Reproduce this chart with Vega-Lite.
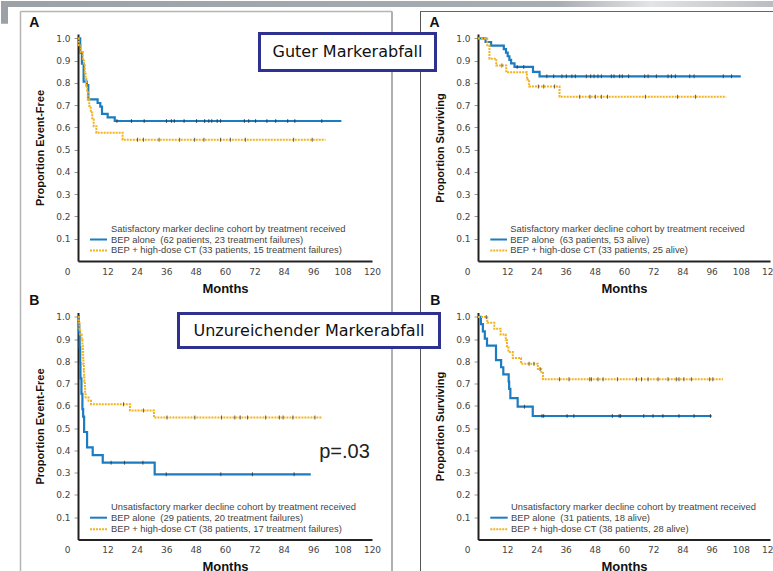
{
"$schema": "https://vega.github.io/schema/vega-lite/v6.json",
"background": "white",
"padding": 0,
"config": {
 "view": {"stroke": null},
 "axis": {"grid": false, "labelOverlap": false, "labelBound": false, "labelFlush": false, "domainColor": "#222", "domainWidth": 2, "labelFont": "DejaVu Sans", "labelFontSize": 9, "labelColor": "#444", "tickColor": "#999", "tickSize": 4, "tickWidth": 1, "titleColor": "#111", "titleFontWeight": "bold"},
 "axisX": {"ticks": false, "tickSize": 0, "labelPadding": 6, "titleFont": "Liberation Sans", "titleFontSize": 13, "titlePadding": 6},
 "axisY": {"labelPadding": 4, "titleFont": "Liberation Sans", "titleFontSize": 11, "titlePadding": 10}
},
"datasets": {
 "one": [{"n": 1}],
 "km": [
  {"panel":"TL","arm":"BEP","kind":"step","month":0,"prop":1},
  {"panel":"TL","arm":"BEP","kind":"step","month":0.9,"prop":0.936},
  {"panel":"TL","arm":"BEP","kind":"step","month":1.6,"prop":0.887},
  {"panel":"TL","arm":"BEP","kind":"step","month":2.3,"prop":0.806},
  {"panel":"TL","arm":"BEP","kind":"step","month":3.6,"prop":0.79},
  {"panel":"TL","arm":"BEP","kind":"step","month":4.2,"prop":0.726},
  {"panel":"TL","arm":"BEP","kind":"step","month":8.0,"prop":0.71},
  {"panel":"TL","arm":"BEP","kind":"step","month":9.1,"prop":0.694},
  {"panel":"TL","arm":"BEP","kind":"step","month":9.8,"prop":0.661},
  {"panel":"TL","arm":"BEP","kind":"step","month":12.1,"prop":0.645},
  {"panel":"TL","arm":"BEP","kind":"step","month":15.0,"prop":0.629},
  {"panel":"TL","arm":"BEP","kind":"step","month":107.5,"prop":0.629},
  {"panel":"TL","arm":"BEP","kind":"cens","month":15.9,"prop":0.629},
  {"panel":"TL","arm":"BEP","kind":"cens","month":21.8,"prop":0.629},
  {"panel":"TL","arm":"BEP","kind":"cens","month":27,"prop":0.629},
  {"panel":"TL","arm":"BEP","kind":"cens","month":36.1,"prop":0.629},
  {"panel":"TL","arm":"BEP","kind":"cens","month":38.1,"prop":0.629},
  {"panel":"TL","arm":"BEP","kind":"cens","month":39.3,"prop":0.629},
  {"panel":"TL","arm":"BEP","kind":"cens","month":43.3,"prop":0.629},
  {"panel":"TL","arm":"BEP","kind":"cens","month":48.4,"prop":0.629},
  {"panel":"TL","arm":"BEP","kind":"cens","month":51.7,"prop":0.629},
  {"panel":"TL","arm":"BEP","kind":"cens","month":53.4,"prop":0.629},
  {"panel":"TL","arm":"BEP","kind":"cens","month":54.6,"prop":0.629},
  {"panel":"TL","arm":"BEP","kind":"cens","month":56.8,"prop":0.629},
  {"panel":"TL","arm":"BEP","kind":"cens","month":58.2,"prop":0.629},
  {"panel":"TL","arm":"BEP","kind":"cens","month":67.9,"prop":0.629},
  {"panel":"TL","arm":"BEP","kind":"cens","month":69.7,"prop":0.629},
  {"panel":"TL","arm":"BEP","kind":"cens","month":72.5,"prop":0.629},
  {"panel":"TL","arm":"BEP","kind":"cens","month":77.1,"prop":0.629},
  {"panel":"TL","arm":"BEP","kind":"cens","month":80.7,"prop":0.629},
  {"panel":"TL","arm":"BEP","kind":"cens","month":85.6,"prop":0.629},
  {"panel":"TL","arm":"BEP","kind":"cens","month":88.5,"prop":0.629},
  {"panel":"TL","arm":"BEP","kind":"cens","month":99.5,"prop":0.629},
  {"panel":"TL","arm":"HD","kind":"step","month":0,"prop":1},
  {"panel":"TL","arm":"HD","kind":"step","month":0.3,"prop":0.97},
  {"panel":"TL","arm":"HD","kind":"step","month":1.2,"prop":0.939},
  {"panel":"TL","arm":"HD","kind":"step","month":2.0,"prop":0.909},
  {"panel":"TL","arm":"HD","kind":"step","month":2.4,"prop":0.879},
  {"panel":"TL","arm":"HD","kind":"step","month":2.8,"prop":0.848},
  {"panel":"TL","arm":"HD","kind":"step","month":3.1,"prop":0.818},
  {"panel":"TL","arm":"HD","kind":"step","month":3.4,"prop":0.788},
  {"panel":"TL","arm":"HD","kind":"step","month":3.7,"prop":0.758},
  {"panel":"TL","arm":"HD","kind":"step","month":4.0,"prop":0.727},
  {"panel":"TL","arm":"HD","kind":"step","month":4.6,"prop":0.697},
  {"panel":"TL","arm":"HD","kind":"step","month":5.2,"prop":0.667},
  {"panel":"TL","arm":"HD","kind":"step","month":5.8,"prop":0.636},
  {"panel":"TL","arm":"HD","kind":"step","month":6.4,"prop":0.606},
  {"panel":"TL","arm":"HD","kind":"step","month":7.5,"prop":0.576},
  {"panel":"TL","arm":"HD","kind":"step","month":18.2,"prop":0.545},
  {"panel":"TL","arm":"HD","kind":"step","month":101,"prop":0.545},
  {"panel":"TL","arm":"HD","kind":"cens","month":24.3,"prop":0.545},
  {"panel":"TL","arm":"HD","kind":"cens","month":26.7,"prop":0.545},
  {"panel":"TL","arm":"HD","kind":"cens","month":33.1,"prop":0.545},
  {"panel":"TL","arm":"HD","kind":"cens","month":41.5,"prop":0.545},
  {"panel":"TL","arm":"HD","kind":"cens","month":47.6,"prop":0.545},
  {"panel":"TL","arm":"HD","kind":"cens","month":51.4,"prop":0.545},
  {"panel":"TL","arm":"HD","kind":"cens","month":58.2,"prop":0.545},
  {"panel":"TL","arm":"HD","kind":"cens","month":62.2,"prop":0.545},
  {"panel":"TL","arm":"HD","kind":"cens","month":68.3,"prop":0.545},
  {"panel":"TL","arm":"HD","kind":"cens","month":88,"prop":0.545},
  {"panel":"TL","arm":"HD","kind":"cens","month":95.6,"prop":0.545},

  {"panel":"TR","arm":"BEP","kind":"step","month":0,"prop":1},
  {"panel":"TR","arm":"BEP","kind":"step","month":3.1,"prop":0.984},
  {"panel":"TR","arm":"BEP","kind":"step","month":5.4,"prop":0.968},
  {"panel":"TR","arm":"BEP","kind":"step","month":10.6,"prop":0.952},
  {"panel":"TR","arm":"BEP","kind":"step","month":11.5,"prop":0.936},
  {"panel":"TR","arm":"BEP","kind":"step","month":12.2,"prop":0.92},
  {"panel":"TR","arm":"BEP","kind":"step","month":12.9,"prop":0.904},
  {"panel":"TR","arm":"BEP","kind":"step","month":13.6,"prop":0.888},
  {"panel":"TR","arm":"BEP","kind":"step","month":15.0,"prop":0.872},
  {"panel":"TR","arm":"BEP","kind":"step","month":22.6,"prop":0.85},
  {"panel":"TR","arm":"BEP","kind":"step","month":25.3,"prop":0.83},
  {"panel":"TR","arm":"BEP","kind":"step","month":108,"prop":0.83},
  {"panel":"TR","arm":"BEP","kind":"cens","month":16.1,"prop":0.872},
  {"panel":"TR","arm":"BEP","kind":"cens","month":18.8,"prop":0.872},
  {"panel":"TR","arm":"BEP","kind":"cens","month":28.3,"prop":0.83},
  {"panel":"TR","arm":"BEP","kind":"cens","month":31.1,"prop":0.83},
  {"panel":"TR","arm":"BEP","kind":"cens","month":34.5,"prop":0.83},
  {"panel":"TR","arm":"BEP","kind":"cens","month":36.3,"prop":0.83},
  {"panel":"TR","arm":"BEP","kind":"cens","month":38.6,"prop":0.83},
  {"panel":"TR","arm":"BEP","kind":"cens","month":40,"prop":0.83},
  {"panel":"TR","arm":"BEP","kind":"cens","month":44.5,"prop":0.83},
  {"panel":"TR","arm":"BEP","kind":"cens","month":46.3,"prop":0.83},
  {"panel":"TR","arm":"BEP","kind":"cens","month":47.7,"prop":0.83},
  {"panel":"TR","arm":"BEP","kind":"cens","month":49.3,"prop":0.83},
  {"panel":"TR","arm":"BEP","kind":"cens","month":50.7,"prop":0.83},
  {"panel":"TR","arm":"BEP","kind":"cens","month":54.8,"prop":0.83},
  {"panel":"TR","arm":"BEP","kind":"cens","month":55.9,"prop":0.83},
  {"panel":"TR","arm":"BEP","kind":"cens","month":58.2,"prop":0.83},
  {"panel":"TR","arm":"BEP","kind":"cens","month":59.3,"prop":0.83},
  {"panel":"TR","arm":"BEP","kind":"cens","month":61.9,"prop":0.83},
  {"panel":"TR","arm":"BEP","kind":"cens","month":68.5,"prop":0.83},
  {"panel":"TR","arm":"BEP","kind":"cens","month":69.9,"prop":0.83},
  {"panel":"TR","arm":"BEP","kind":"cens","month":73.3,"prop":0.83},
  {"panel":"TR","arm":"BEP","kind":"cens","month":78.1,"prop":0.83},
  {"panel":"TR","arm":"BEP","kind":"cens","month":79.5,"prop":0.83},
  {"panel":"TR","arm":"BEP","kind":"cens","month":81.1,"prop":0.83},
  {"panel":"TR","arm":"BEP","kind":"cens","month":87,"prop":0.83},
  {"panel":"TR","arm":"BEP","kind":"cens","month":88.8,"prop":0.83},
  {"panel":"TR","arm":"BEP","kind":"cens","month":100.8,"prop":0.83},
  {"panel":"TR","arm":"BEP","kind":"cens","month":104.2,"prop":0.83},
  {"panel":"TR","arm":"HD","kind":"step","month":0,"prop":1},
  {"panel":"TR","arm":"HD","kind":"step","month":3.8,"prop":0.97},
  {"panel":"TR","arm":"HD","kind":"step","month":4.7,"prop":0.909},
  {"panel":"TR","arm":"HD","kind":"step","month":7.5,"prop":0.879},
  {"panel":"TR","arm":"HD","kind":"step","month":11.6,"prop":0.848},
  {"panel":"TR","arm":"HD","kind":"step","month":20.1,"prop":0.815},
  {"panel":"TR","arm":"HD","kind":"step","month":21.0,"prop":0.784},
  {"panel":"TR","arm":"HD","kind":"step","month":33.5,"prop":0.738},
  {"panel":"TR","arm":"HD","kind":"step","month":102,"prop":0.738},
  {"panel":"TR","arm":"HD","kind":"cens","month":9.8,"prop":0.879},
  {"panel":"TR","arm":"HD","kind":"cens","month":24.8,"prop":0.784},
  {"panel":"TR","arm":"HD","kind":"cens","month":27,"prop":0.784},
  {"panel":"TR","arm":"HD","kind":"cens","month":31.5,"prop":0.784},
  {"panel":"TR","arm":"HD","kind":"cens","month":41.8,"prop":0.738},
  {"panel":"TR","arm":"HD","kind":"cens","month":46,"prop":0.738},
  {"panel":"TR","arm":"HD","kind":"cens","month":48.2,"prop":0.738},
  {"panel":"TR","arm":"HD","kind":"cens","month":50.7,"prop":0.738},
  {"panel":"TR","arm":"HD","kind":"cens","month":53.2,"prop":0.738},
  {"panel":"TR","arm":"HD","kind":"cens","month":68.8,"prop":0.738},
  {"panel":"TR","arm":"HD","kind":"cens","month":82,"prop":0.738},
  {"panel":"TR","arm":"HD","kind":"cens","month":89.4,"prop":0.738},

  {"panel":"BL","arm":"BEP","kind":"step","month":0,"prop":1},
  {"panel":"BL","arm":"BEP","kind":"step","month":0.3,"prop":0.966},
  {"panel":"BL","arm":"BEP","kind":"step","month":0.5,"prop":0.931},
  {"panel":"BL","arm":"BEP","kind":"step","month":0.7,"prop":0.862},
  {"panel":"BL","arm":"BEP","kind":"step","month":0.9,"prop":0.793},
  {"panel":"BL","arm":"BEP","kind":"step","month":1.0,"prop":0.724},
  {"panel":"BL","arm":"BEP","kind":"step","month":1.4,"prop":0.655},
  {"panel":"BL","arm":"BEP","kind":"step","month":1.8,"prop":0.586},
  {"panel":"BL","arm":"BEP","kind":"step","month":2.1,"prop":0.552},
  {"panel":"BL","arm":"BEP","kind":"step","month":2.5,"prop":0.483},
  {"panel":"BL","arm":"BEP","kind":"step","month":3.7,"prop":0.414},
  {"panel":"BL","arm":"BEP","kind":"step","month":6.0,"prop":0.379},
  {"panel":"BL","arm":"BEP","kind":"step","month":10.1,"prop":0.345},
  {"panel":"BL","arm":"BEP","kind":"step","month":31.3,"prop":0.293},
  {"panel":"BL","arm":"BEP","kind":"step","month":95,"prop":0.293},
  {"panel":"BL","arm":"BEP","kind":"cens","month":13.5,"prop":0.345},
  {"panel":"BL","arm":"BEP","kind":"cens","month":19,"prop":0.345},
  {"panel":"BL","arm":"BEP","kind":"cens","month":26.5,"prop":0.345},
  {"panel":"BL","arm":"BEP","kind":"cens","month":36,"prop":0.293},
  {"panel":"BL","arm":"BEP","kind":"cens","month":58.3,"prop":0.293},
  {"panel":"BL","arm":"BEP","kind":"cens","month":71.2,"prop":0.293},
  {"panel":"BL","arm":"BEP","kind":"cens","month":88.2,"prop":0.293},
  {"panel":"BL","arm":"HD","kind":"step","month":0,"prop":1},
  {"panel":"BL","arm":"HD","kind":"step","month":0.3,"prop":0.974},
  {"panel":"BL","arm":"HD","kind":"step","month":0.6,"prop":0.947},
  {"panel":"BL","arm":"HD","kind":"step","month":0.9,"prop":0.921},
  {"panel":"BL","arm":"HD","kind":"step","month":1.5,"prop":0.895},
  {"panel":"BL","arm":"HD","kind":"step","month":1.8,"prop":0.868},
  {"panel":"BL","arm":"HD","kind":"step","month":2.0,"prop":0.842},
  {"panel":"BL","arm":"HD","kind":"step","month":2.1,"prop":0.816},
  {"panel":"BL","arm":"HD","kind":"step","month":2.2,"prop":0.789},
  {"panel":"BL","arm":"HD","kind":"step","month":2.4,"prop":0.763},
  {"panel":"BL","arm":"HD","kind":"step","month":2.5,"prop":0.737},
  {"panel":"BL","arm":"HD","kind":"step","month":2.6,"prop":0.711},
  {"panel":"BL","arm":"HD","kind":"step","month":2.8,"prop":0.684},
  {"panel":"BL","arm":"HD","kind":"step","month":2.9,"prop":0.658},
  {"panel":"BL","arm":"HD","kind":"step","month":3.1,"prop":0.638},
  {"panel":"BL","arm":"HD","kind":"step","month":4.3,"prop":0.623},
  {"panel":"BL","arm":"HD","kind":"step","month":5.3,"prop":0.608},
  {"panel":"BL","arm":"HD","kind":"step","month":21.2,"prop":0.58},
  {"panel":"BL","arm":"HD","kind":"step","month":31.0,"prop":0.548},
  {"panel":"BL","arm":"HD","kind":"step","month":99.7,"prop":0.548},
  {"panel":"BL","arm":"HD","kind":"cens","month":18.6,"prop":0.608},
  {"panel":"BL","arm":"HD","kind":"cens","month":26.7,"prop":0.58},
  {"panel":"BL","arm":"HD","kind":"cens","month":36.3,"prop":0.548},
  {"panel":"BL","arm":"HD","kind":"cens","month":47.7,"prop":0.548},
  {"panel":"BL","arm":"HD","kind":"cens","month":58.6,"prop":0.548},
  {"panel":"BL","arm":"HD","kind":"cens","month":64,"prop":0.548},
  {"panel":"BL","arm":"HD","kind":"cens","month":66.2,"prop":0.548},
  {"panel":"BL","arm":"HD","kind":"cens","month":69.2,"prop":0.548},
  {"panel":"BL","arm":"HD","kind":"cens","month":76.6,"prop":0.548},
  {"panel":"BL","arm":"HD","kind":"cens","month":82.2,"prop":0.548},
  {"panel":"BL","arm":"HD","kind":"cens","month":83.7,"prop":0.548},
  {"panel":"BL","arm":"HD","kind":"cens","month":87.7,"prop":0.548},
  {"panel":"BL","arm":"HD","kind":"cens","month":96.7,"prop":0.548},

  {"panel":"BR","arm":"BEP","kind":"step","month":0,"prop":1},
  {"panel":"BR","arm":"BEP","kind":"step","month":1.2,"prop":0.968},
  {"panel":"BR","arm":"BEP","kind":"step","month":2.0,"prop":0.935},
  {"panel":"BR","arm":"BEP","kind":"step","month":2.8,"prop":0.903},
  {"panel":"BR","arm":"BEP","kind":"step","month":3.7,"prop":0.871},
  {"panel":"BR","arm":"BEP","kind":"step","month":7.4,"prop":0.806},
  {"panel":"BR","arm":"BEP","kind":"step","month":9.5,"prop":0.774},
  {"panel":"BR","arm":"BEP","kind":"step","month":10.4,"prop":0.742},
  {"panel":"BR","arm":"BEP","kind":"step","month":12.6,"prop":0.71},
  {"panel":"BR","arm":"BEP","kind":"step","month":12.8,"prop":0.677},
  {"panel":"BR","arm":"BEP","kind":"step","month":13.3,"prop":0.635},
  {"panel":"BR","arm":"BEP","kind":"step","month":16.3,"prop":0.597},
  {"panel":"BR","arm":"BEP","kind":"step","month":22.5,"prop":0.555},
  {"panel":"BR","arm":"BEP","kind":"step","month":96,"prop":0.555},
  {"panel":"BR","arm":"BEP","kind":"cens","month":19.1,"prop":0.597},
  {"panel":"BR","arm":"BEP","kind":"cens","month":26.3,"prop":0.555},
  {"panel":"BR","arm":"BEP","kind":"cens","month":27,"prop":0.555},
  {"panel":"BR","arm":"BEP","kind":"cens","month":36.6,"prop":0.555},
  {"panel":"BR","arm":"BEP","kind":"cens","month":39.4,"prop":0.555},
  {"panel":"BR","arm":"BEP","kind":"cens","month":55.2,"prop":0.555},
  {"panel":"BR","arm":"BEP","kind":"cens","month":58,"prop":0.555},
  {"panel":"BR","arm":"BEP","kind":"cens","month":58.6,"prop":0.555},
  {"panel":"BR","arm":"BEP","kind":"cens","month":68.1,"prop":0.555},
  {"panel":"BR","arm":"BEP","kind":"cens","month":71.9,"prop":0.555},
  {"panel":"BR","arm":"BEP","kind":"cens","month":76,"prop":0.555},
  {"panel":"BR","arm":"BEP","kind":"cens","month":82.6,"prop":0.555},
  {"panel":"BR","arm":"BEP","kind":"cens","month":88.8,"prop":0.555},
  {"panel":"BR","arm":"BEP","kind":"cens","month":95.5,"prop":0.555},
  {"panel":"BR","arm":"HD","kind":"step","month":0,"prop":1},
  {"panel":"BR","arm":"HD","kind":"step","month":3.8,"prop":0.974},
  {"panel":"BR","arm":"HD","kind":"step","month":6.7,"prop":0.947},
  {"panel":"BR","arm":"HD","kind":"step","month":9.3,"prop":0.921},
  {"panel":"BR","arm":"HD","kind":"step","month":11.4,"prop":0.895},
  {"panel":"BR","arm":"HD","kind":"step","month":11.9,"prop":0.868},
  {"panel":"BR","arm":"HD","kind":"step","month":12.5,"prop":0.842},
  {"panel":"BR","arm":"HD","kind":"step","month":14.3,"prop":0.816},
  {"panel":"BR","arm":"HD","kind":"step","month":17.7,"prop":0.79},
  {"panel":"BR","arm":"HD","kind":"step","month":24.6,"prop":0.766},
  {"panel":"BR","arm":"HD","kind":"step","month":26.0,"prop":0.748},
  {"panel":"BR","arm":"HD","kind":"step","month":26.7,"prop":0.72},
  {"panel":"BR","arm":"HD","kind":"step","month":100.7,"prop":0.72},
  {"panel":"BR","arm":"HD","kind":"cens","month":3.4,"prop":1},
  {"panel":"BR","arm":"HD","kind":"cens","month":21,"prop":0.79},
  {"panel":"BR","arm":"HD","kind":"cens","month":23,"prop":0.79},
  {"panel":"BR","arm":"HD","kind":"cens","month":25.5,"prop":0.766},
  {"panel":"BR","arm":"HD","kind":"cens","month":33.5,"prop":0.72},
  {"panel":"BR","arm":"HD","kind":"cens","month":37.4,"prop":0.72},
  {"panel":"BR","arm":"HD","kind":"cens","month":45.9,"prop":0.72},
  {"panel":"BR","arm":"HD","kind":"cens","month":46.6,"prop":0.72},
  {"panel":"BR","arm":"HD","kind":"cens","month":49.3,"prop":0.72},
  {"panel":"BR","arm":"HD","kind":"cens","month":51.4,"prop":0.72},
  {"panel":"BR","arm":"HD","kind":"cens","month":57.3,"prop":0.72},
  {"panel":"BR","arm":"HD","kind":"cens","month":65.1,"prop":0.72},
  {"panel":"BR","arm":"HD","kind":"cens","month":67.2,"prop":0.72},
  {"panel":"BR","arm":"HD","kind":"cens","month":69.9,"prop":0.72},
  {"panel":"BR","arm":"HD","kind":"cens","month":74,"prop":0.72},
  {"panel":"BR","arm":"HD","kind":"cens","month":78.1,"prop":0.72},
  {"panel":"BR","arm":"HD","kind":"cens","month":81.5,"prop":0.72},
  {"panel":"BR","arm":"HD","kind":"cens","month":82.6,"prop":0.72},
  {"panel":"BR","arm":"HD","kind":"cens","month":84.6,"prop":0.72},
  {"panel":"BR","arm":"HD","kind":"cens","month":87.7,"prop":0.72},
  {"panel":"BR","arm":"HD","kind":"cens","month":95.2,"prop":0.72},
  {"panel":"BR","arm":"HD","kind":"cens","month":96.5,"prop":0.72}
 ]
},
"columns": 2,
"spacing": {"row": 51.5, "column": 106},
"bounds": "flush",
"resolve": {"scale": {"x": "independent", "y": "independent"}},
"concat": [
 {
  "width": 294, "height": 227,
  "layer": [
   {"data": {"name": "one"}, "mark": {"type": "rect", "fill": {"gradient": "linear", "x1": 0, "x2": 1, "y1": 0, "y2": 0, "stops": [{"offset": 0, "color": "#9ca1a7"}, {"offset": 0.72, "color": "#a8adb2"}, {"offset": 0.84, "color": "#e2e4e6"}, {"offset": 1, "color": "#b9bdc1"}]}}, "encoding": {"x": {"datum": -31.43}, "x2": {"datum": 284.08}, "y": {"datum": 1.1683}, "y2": {"datum": 1.1413}}},
   {"data": {"name": "one"}, "mark": {"type": "rect", "fill": "#9ca1a7"}, "encoding": {"x": {"datum": -31.43}, "x2": {"datum": -28.57}, "y": {"datum": 1.1683}, "y2": {"datum": 1.0661}}},
   {"data": {"name": "one"}, "mark": {"type": "rule", "color": "#b5b5b5", "strokeWidth": 1.5}, "encoding": {"x": {"datum": -23.47}, "x2": {"datum": 128.16}, "y": {"datum": 1.1211}}},
   {"data": {"name": "one"}, "mark": {"type": "rule", "color": "#b5b5b5", "strokeWidth": 1.5}, "encoding": {"x": {"datum": -23.47}, "y": {"datum": 1.1211}, "y2": {"datum": -1.3978}}},
   {"data": {"name": "one"}, "mark": {"type": "rule", "color": "#b0b0b0", "strokeWidth": 2}, "encoding": {"x": {"datum": 128.16}, "y": {"datum": 1.1211}, "y2": {"datum": -1.3978}}},
   {"data": {"name": "one"}, "mark": {"type": "rule", "color": "#666666", "strokeWidth": 1}, "encoding": {"x": {"datum": 139.59}, "x2": {"datum": 284.08}, "y": {"datum": 1.1211}}},
   {"data": {"name": "one"}, "mark": {"type": "rule", "color": "#555555", "strokeWidth": 1}, "encoding": {"x": {"datum": 139.8}, "y": {"datum": 1.1211}, "y2": {"datum": -1.3978}}},
   {"data": {"name": "km"}, "transform": [{"filter": "datum.panel === 'TL'"}],
    "encoding": {
     "x": {"field": "month", "type": "quantitative", "scale": {"domain": [0, 120], "nice": false, "zero": false}, "axis": {"title": "Months", "tickCount": 30, "labelOverlap": false, "values": [0,12,24,36,48,60,72,84,96,108,120], "labelOffset": {"condition": {"test": "datum.value === 0", "value": -11}, "value": 0}}},
     "y": {"field": "prop", "type": "quantitative", "scale": {"domain": [0, 1.02], "nice": false, "zero": false}, "axis": {"title": "Proportion Event-Free", "tickCount": 30, "labelOverlap": false, "values": [0.1,0.2,0.3,0.4,0.5,0.6,0.7,0.8,0.9,1.0], "format": ".1f"}}
    },
    "layer": [
     {"transform": [{"filter": "datum.kind === 'step' && datum.arm === 'BEP'"}], "mark": {"type": "line", "interpolate": "step-after", "color": "#1b7cc1", "strokeWidth": 2.2}},
     {"transform": [{"filter": "datum.kind === 'step' && datum.arm === 'HD'"}], "mark": {"type": "line", "interpolate": "step-after", "color": "#f2b31f", "strokeWidth": 2, "strokeDash": [2, 1]}},
     {"transform": [{"filter": "datum.kind === 'cens'"}], "mark": {"type": "tick", "orient": "vertical", "size": 4, "thickness": 1, "color": "#222"}}
    ]},
   {"data": {"name": "one"}, "mark": {"type": "text", "text": "Satisfactory marker decline cohort by treatment received", "align": "left", "baseline": "middle", "font": "Liberation Sans", "fontSize": 9.4, "color": "#444"}, "encoding": {"x": {"datum": 13.47}, "y": {"datum": 0.1438}}},
   {"data": {"name": "one"}, "mark": {"type": "text", "text": "BEP alone\u00a0 (62 patients, 23 treatment failures)", "align": "left", "baseline": "middle", "font": "Liberation Sans", "fontSize": 9.4, "color": "#444"}, "encoding": {"x": {"datum": 13.47}, "y": {"datum": 0.0966}}},
   {"data": {"name": "one"}, "mark": {"type": "text", "text": "BEP + high-dose CT (33 patients, 15 treatment failures)", "align": "left", "baseline": "middle", "font": "Liberation Sans", "fontSize": 9.4, "color": "#444"}, "encoding": {"x": {"datum": 13.47}, "y": {"datum": 0.0472}}},
   {"data": {"name": "one"}, "mark": {"type": "rule", "color": "#1b7cc1", "strokeWidth": 2}, "encoding": {"x": {"datum": 4.9}, "x2": {"datum": 11.84}, "y": {"datum": 0.0966}}},
   {"data": {"name": "one"}, "mark": {"type": "rule", "color": "#f2b31f", "strokeWidth": 2, "strokeDash": [2, 1]}, "encoding": {"x": {"datum": 4.9}, "x2": {"datum": 11.84}, "y": {"datum": 0.0472}}},
   {"data": {"name": "one"}, "mark": {"type": "text", "text": "A", "align": "center", "baseline": "middle", "font": "Liberation Sans", "fontSize": 14, "fontWeight": "bold", "color": "#111"}, "encoding": {"x": {"datum": -17.84}, "y": {"datum": 1.0681}}},
   {"data": {"name": "one"}, "mark": {"type": "rect", "fill": "white", "stroke": "#2f3190", "strokeWidth": 3}, "encoding": {"x": {"datum": 74.08}, "x2": {"datum": 145.92}, "y": {"datum": 1.0222}, "y2": {"datum": 0.856}}},
   {"data": {"name": "one"}, "mark": {"type": "text", "text": "Guter Markerabfall", "align": "center", "baseline": "middle", "font": "DejaVu Sans", "fontSize": 16, "color": "#111"}, "encoding": {"x": {"datum": 110.0}, "y": {"datum": 0.9391}}}
  ]
 },
 {
  "width": 292, "height": 227,
  "layer": [
   {"data": {"name": "km"}, "transform": [{"filter": "datum.panel === 'TR'"}],
    "encoding": {
     "x": {"field": "month", "type": "quantitative", "scale": {"domain": [0, 120], "nice": false, "zero": false}, "axis": {"title": "Months", "tickCount": 30, "labelOverlap": false, "values": [0,12,24,36,48,60,72,84,96,108,120], "labelOffset": {"condition": {"test": "datum.value === 0", "value": -11}, "value": 0}}},
     "y": {"field": "prop", "type": "quantitative", "scale": {"domain": [0, 1.02], "nice": false, "zero": false}, "axis": {"title": "Proportion Surviving", "tickCount": 30, "labelOverlap": false, "values": [0.1,0.2,0.3,0.4,0.5,0.6,0.7,0.8,0.9,1.0], "format": ".1f"}}
    },
    "layer": [
     {"transform": [{"filter": "datum.kind === 'step' && datum.arm === 'BEP'"}], "mark": {"type": "line", "interpolate": "step-after", "color": "#1b7cc1", "strokeWidth": 2.2}},
     {"transform": [{"filter": "datum.kind === 'step' && datum.arm === 'HD'"}], "mark": {"type": "line", "interpolate": "step-after", "color": "#f2b31f", "strokeWidth": 2, "strokeDash": [2, 1]}},
     {"transform": [{"filter": "datum.kind === 'cens'"}], "mark": {"type": "tick", "orient": "vertical", "size": 4, "thickness": 1, "color": "#222"}}
    ]},
   {"data": {"name": "one"}, "mark": {"type": "text", "text": "Satisfactory marker decline cohort by treatment received", "align": "left", "baseline": "middle", "font": "Liberation Sans", "fontSize": 9.4, "color": "#444"}, "encoding": {"x": {"datum": 13.27}, "y": {"datum": 0.1438}}},
   {"data": {"name": "one"}, "mark": {"type": "text", "text": "BEP alone\u00a0 (63 patients, 53 alive)", "align": "left", "baseline": "middle", "font": "Liberation Sans", "fontSize": 9.4, "color": "#444"}, "encoding": {"x": {"datum": 13.27}, "y": {"datum": 0.0966}}},
   {"data": {"name": "one"}, "mark": {"type": "text", "text": "BEP + high-dose CT (33 patients, 25 alive)", "align": "left", "baseline": "middle", "font": "Liberation Sans", "fontSize": 9.4, "color": "#444"}, "encoding": {"x": {"datum": 13.27}, "y": {"datum": 0.0472}}},
   {"data": {"name": "one"}, "mark": {"type": "rule", "color": "#1b7cc1", "strokeWidth": 2}, "encoding": {"x": {"datum": 5.05}, "x2": {"datum": 11.92}, "y": {"datum": 0.0966}}},
   {"data": {"name": "one"}, "mark": {"type": "rule", "color": "#f2b31f", "strokeWidth": 2, "strokeDash": [2, 1]}, "encoding": {"x": {"datum": 5.05}, "x2": {"datum": 11.92}, "y": {"datum": 0.0472}}},
   {"data": {"name": "one"}, "mark": {"type": "text", "text": "A", "align": "center", "baseline": "middle", "font": "Liberation Sans", "fontSize": 14, "fontWeight": "bold", "color": "#111"}, "encoding": {"x": {"datum": -17.88}, "y": {"datum": 1.0681}}}
  ]
 },
 {
  "width": 294, "height": 227,
  "layer": [
   {"data": {"name": "km"}, "transform": [{"filter": "datum.panel === 'BL'"}],
    "encoding": {
     "x": {"field": "month", "type": "quantitative", "scale": {"domain": [0, 120], "nice": false, "zero": false}, "axis": {"title": "Months", "tickCount": 30, "labelOverlap": false, "values": [0,12,24,36,48,60,72,84,96,108,120], "labelOffset": {"condition": {"test": "datum.value === 0", "value": -11}, "value": 0}}},
     "y": {"field": "prop", "type": "quantitative", "scale": {"domain": [0, 1.02], "nice": false, "zero": false}, "axis": {"title": "Proportion Event-Free", "tickCount": 30, "labelOverlap": false, "values": [0.1,0.2,0.3,0.4,0.5,0.6,0.7,0.8,0.9,1.0], "format": ".1f"}}
    },
    "layer": [
     {"transform": [{"filter": "datum.kind === 'step' && datum.arm === 'BEP'"}], "mark": {"type": "line", "interpolate": "step-after", "color": "#1b7cc1", "strokeWidth": 2.2}},
     {"transform": [{"filter": "datum.kind === 'step' && datum.arm === 'HD'"}], "mark": {"type": "line", "interpolate": "step-after", "color": "#f2b31f", "strokeWidth": 2, "strokeDash": [2, 1]}},
     {"transform": [{"filter": "datum.kind === 'cens'"}], "mark": {"type": "tick", "orient": "vertical", "size": 4, "thickness": 1, "color": "#222"}}
    ]},
   {"data": {"name": "one"}, "mark": {"type": "text", "text": "Unsatisfactory marker decline cohort by treatment received", "align": "left", "baseline": "middle", "font": "Liberation Sans", "fontSize": 9.4, "color": "#444"}, "encoding": {"x": {"datum": 13.47}, "y": {"datum": 0.1474}}},
   {"data": {"name": "one"}, "mark": {"type": "text", "text": "BEP alone\u00a0 (29 patients, 20 treatment failures)", "align": "left", "baseline": "middle", "font": "Liberation Sans", "fontSize": 9.4, "color": "#444"}, "encoding": {"x": {"datum": 13.47}, "y": {"datum": 0.098}}},
   {"data": {"name": "one"}, "mark": {"type": "text", "text": "BEP + high-dose CT (38 patients, 17 treatment failures)", "align": "left", "baseline": "middle", "font": "Liberation Sans", "fontSize": 9.4, "color": "#444"}, "encoding": {"x": {"datum": 13.47}, "y": {"datum": 0.0458}}},
   {"data": {"name": "one"}, "mark": {"type": "rule", "color": "#1b7cc1", "strokeWidth": 2}, "encoding": {"x": {"datum": 4.9}, "x2": {"datum": 11.84}, "y": {"datum": 0.098}}},
   {"data": {"name": "one"}, "mark": {"type": "rule", "color": "#f2b31f", "strokeWidth": 2, "strokeDash": [2, 1]}, "encoding": {"x": {"datum": 4.9}, "x2": {"datum": 11.84}, "y": {"datum": 0.0458}}},
   {"data": {"name": "one"}, "mark": {"type": "text", "text": "B", "align": "center", "baseline": "middle", "font": "Liberation Sans", "fontSize": 14, "fontWeight": "bold", "color": "#111"}, "encoding": {"x": {"datum": -17.84}, "y": {"datum": 1.0703}}},
   {"data": {"name": "one"}, "mark": {"type": "rect", "fill": "white", "stroke": "#2f3190", "strokeWidth": 3}, "encoding": {"x": {"datum": 41.02}, "x2": {"datum": 147.55}, "y": {"datum": 1.0155}, "y2": {"datum": 0.8627}}},
   {"data": {"name": "one"}, "mark": {"type": "text", "text": "Unzureichender Markerabfall", "align": "center", "baseline": "middle", "font": "DejaVu Sans", "fontSize": 16, "color": "#111"}, "encoding": {"x": {"datum": 94.29}, "y": {"datum": 0.9369}}},
   {"data": {"name": "one"}, "mark": {"type": "text", "text": "p=.03", "align": "center", "baseline": "middle", "font": "Liberation Sans", "fontSize": 20, "color": "#222"}, "encoding": {"x": {"datum": 108.78}, "y": {"datum": 0.394}}}
  ]
 },
 {
  "width": 292, "height": 227,
  "layer": [
   {"data": {"name": "km"}, "transform": [{"filter": "datum.panel === 'BR'"}],
    "encoding": {
     "x": {"field": "month", "type": "quantitative", "scale": {"domain": [0, 120], "nice": false, "zero": false}, "axis": {"title": "Months", "tickCount": 30, "labelOverlap": false, "values": [0,12,24,36,48,60,72,84,96,108,120], "labelOffset": {"condition": {"test": "datum.value === 0", "value": -11}, "value": 0}}},
     "y": {"field": "prop", "type": "quantitative", "scale": {"domain": [0, 1.02], "nice": false, "zero": false}, "axis": {"title": "Proportion Surviving", "tickCount": 30, "labelOverlap": false, "values": [0.1,0.2,0.3,0.4,0.5,0.6,0.7,0.8,0.9,1.0], "format": ".1f"}}
    },
    "layer": [
     {"transform": [{"filter": "datum.kind === 'step' && datum.arm === 'BEP'"}], "mark": {"type": "line", "interpolate": "step-after", "color": "#1b7cc1", "strokeWidth": 2.2}},
     {"transform": [{"filter": "datum.kind === 'step' && datum.arm === 'HD'"}], "mark": {"type": "line", "interpolate": "step-after", "color": "#f2b31f", "strokeWidth": 2, "strokeDash": [2, 1]}},
     {"transform": [{"filter": "datum.kind === 'cens'"}], "mark": {"type": "tick", "orient": "vertical", "size": 4, "thickness": 1, "color": "#222"}}
    ]},
   {"data": {"name": "one"}, "mark": {"type": "text", "text": "Unsatisfactory marker decline cohort by treatment received", "align": "left", "baseline": "middle", "font": "Liberation Sans", "fontSize": 9.4, "color": "#444"}, "encoding": {"x": {"datum": 13.56}, "y": {"datum": 0.1474}}},
   {"data": {"name": "one"}, "mark": {"type": "text", "text": "BEP alone\u00a0 (31 patients, 18 alive)", "align": "left", "baseline": "middle", "font": "Liberation Sans", "fontSize": 9.4, "color": "#444"}, "encoding": {"x": {"datum": 13.56}, "y": {"datum": 0.098}}},
   {"data": {"name": "one"}, "mark": {"type": "text", "text": "BEP + high-dose CT (38 patients, 28 alive)", "align": "left", "baseline": "middle", "font": "Liberation Sans", "fontSize": 9.4, "color": "#444"}, "encoding": {"x": {"datum": 13.56}, "y": {"datum": 0.0458}}},
   {"data": {"name": "one"}, "mark": {"type": "rule", "color": "#1b7cc1", "strokeWidth": 2}, "encoding": {"x": {"datum": 5.05}, "x2": {"datum": 12.2}, "y": {"datum": 0.098}}},
   {"data": {"name": "one"}, "mark": {"type": "rule", "color": "#f2b31f", "strokeWidth": 2, "strokeDash": [2, 1]}, "encoding": {"x": {"datum": 5.05}, "x2": {"datum": 12.2}, "y": {"datum": 0.0458}}},
   {"data": {"name": "one"}, "mark": {"type": "text", "text": "B", "align": "center", "baseline": "middle", "font": "Liberation Sans", "fontSize": 14, "fontWeight": "bold", "color": "#111"}, "encoding": {"x": {"datum": -17.55}, "y": {"datum": 1.0703}}}
  ]
 }
]
}
